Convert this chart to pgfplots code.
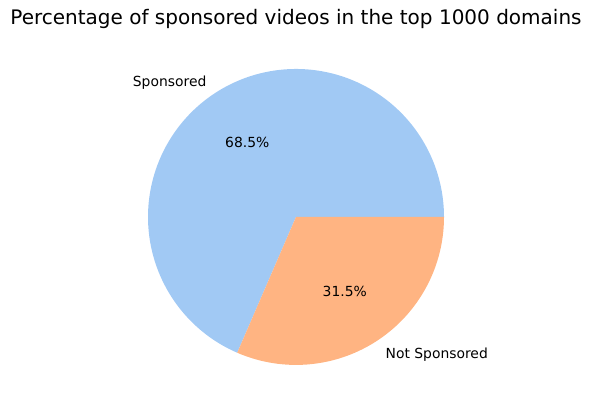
\documentclass[border=0pt]{standalone}
\usepackage{pgfplots}
\usepackage{pgfplotstable}
\usepackage{fontspec}
\setmainfont{DejaVu Sans}
\pgfplotsset{compat=1.18}
\definecolor{pblue}{HTML}{A1C9F4}
\definecolor{porange}{HTML}{FFB482}
\pgfplotstableread{
label value
Sponsored 68.5
NotSponsored 31.5
}\piedata
\begin{document}%
\begin{tikzpicture}
\pgfplotstablegetelem{0}{value}\of\piedata \global\let\va\pgfplotsretval
\pgfplotstablegetelem{1}{value}\of\piedata \global\let\vb\pgfplotsretval
\pgfmathsetmacro{\aend}{3.6*\va}
\pgfmathsetmacro{\amidA}{\aend/2}
\pgfmathsetmacro{\amidB}{(\aend+360)/2}
\begin{axis}[
  scale only axis, width=427pt, height=296.6pt,
  xmin=0, xmax=593, ymin=0, ymax=412,
  hide axis, clip=false,
]
\draw[draw=none] (rel axis cs:0,0) rectangle (rel axis cs:1,1);
\addplot[fill=pblue, draw=none, domain=0:\aend, samples=200, variable=\t]
  ({296+148*cos(\t)}, {195+148*sin(\t)}) -- (axis cs:296,195) -- cycle;
\addplot[fill=porange, draw=none, domain=\aend:360, samples=120, variable=\t]
  ({296+148*cos(\t)}, {195+148*sin(\t)}) -- (axis cs:296,195) -- cycle;
\node[anchor=east, inner sep=0pt, font=\fontsize{10}{12}\selectfont] at (axis cs:{296+1.1*148*cos(\amidA)},{193+1.1*148*sin(\amidA)}) {Sponsored};
\node[anchor=west, inner sep=0pt, font=\fontsize{10}{12}\selectfont] at (axis cs:{296+1.1*148*cos(\amidB)},{193+1.1*148*sin(\amidB)}) {Not Sponsored};
\node[inner sep=0pt, font=\fontsize{10}{12}\selectfont] at (axis cs:{296+0.6*148*cos(\amidA)},{195+0.6*148*sin(\amidA)}) {\va\%};
\node[inner sep=0pt, font=\fontsize{10}{12}\selectfont] at (axis cs:{296+0.6*148*cos(\amidB)},{195+0.6*148*sin(\amidB)}) {\vb\%};
\node[font=\fontsize{14.4}{17}\selectfont] at (axis cs:296,393) {Percentage of sponsored videos in the top 1000 domains};
\end{axis}
\end{tikzpicture}%
\end{document}
